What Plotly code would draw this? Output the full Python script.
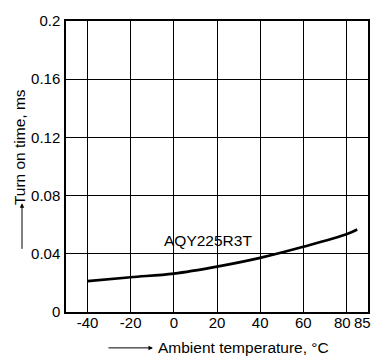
import plotly.graph_objects as go

# Data
temperature_c = [-40, -20, 0, 20, 40, 60, 80, 85]
turn_on_ms = [0.0212, 0.0239, 0.0264, 0.0312, 0.0372, 0.0448, 0.0534, 0.0567]
series_label = "AQY225R3T"

x_grid_ticks = [-40, -20, 0, 20, 40, 60, 80]
x_tick_labels = ["-40", "-20", "0", "20", "40", "60"]
x_tick_vals = [-40, -20, 0, 20, 40, 60]
x_edge_labels = [(80, "80", -4), (85, "85", 5)]
y_tick_vals = [0, 0.04, 0.08, 0.12, 0.16, 0.2]
y_tick_text = ["0", "0.04", "0.08", "0.12", "0.16", "0.2"]

FONT = "Liberation Sans, Arial, Helvetica, sans-serif"
TICK = 15

fig = go.Figure()
fig.add_trace(go.Scatter(
    x=temperature_c, y=turn_on_ms, mode="lines",
    line=dict(color="black", width=2.6, shape="spline", smoothing=1.0),
    showlegend=False, hoverinfo="skip",
))
# invisible trace to host the label axis
fig.add_trace(go.Scatter(x=[x_tick_vals[0]], y=[0], xaxis="x2", mode="markers",
                         marker=dict(opacity=0), showlegend=False, hoverinfo="skip"))

fig.update_layout(
    width=385, height=360,
    margin=dict(l=66, r=17, t=12, b=48),
    paper_bgcolor="white", plot_bgcolor="white",
    font=dict(family=FONT, size=TICK, color="black"),
    xaxis=dict(
        range=[-50, 90], tickvals=x_grid_ticks, showticklabels=False,
        showgrid=True, gridcolor="black", gridwidth=1,
        zeroline=False, showline=True, linecolor="black", linewidth=1.5,
        mirror=True, ticks="",
    ),
    xaxis2=dict(
        range=[-50, 90], overlaying="x", side="bottom", anchor="y",
        tickvals=x_tick_vals, ticktext=x_tick_labels, showgrid=False,
        zeroline=False, showline=False, ticks="",
        tickfont=dict(family=FONT, size=TICK, color="black"),
    ),
    yaxis=dict(
        range=[0, 0.2], tickvals=y_tick_vals, ticktext=y_tick_text,
        showgrid=True, gridcolor="black", gridwidth=1,
        zeroline=False, showline=True, linecolor="black", linewidth=1.5,
        mirror=True, ticks="outside", ticklen=1, tickcolor="white",
        tickfont=dict(family=FONT, size=TICK, color="black"),
    ),
)

annotations = []
for val, txt, shift in x_edge_labels:
    annotations.append(dict(x=val, y=0, xref="x", yref="y", text=txt, showarrow=False,
                            xanchor="center", yanchor="top", xshift=shift, yshift=0,
                            font=dict(family=FONT, size=TICK, color="black")))
# Series label
annotations.append(dict(x=16, y=0.049, xref="x", yref="y", text=series_label,
                        showarrow=False, font=dict(family=FONT, size=15.5, color="black")))
# X axis title with arrow
annotations.append(dict(x=(153 - 66) / 302, y=(312 - 349) / 300, xref="paper", yref="paper",
                        ax=-46, ay=0, text="", showarrow=True, arrowhead=2, arrowsize=0.9,
                        arrowwidth=1, arrowcolor="black"))
annotations.append(dict(x=(156 - 66) / 302, y=(312 - 349) / 300, xref="paper", yref="paper",
                        text="Ambient temperature, °C", showarrow=False,
                        xanchor="left", yanchor="middle",
                        font=dict(family=FONT, size=15.5, color="black")))
# Y axis title with arrow
annotations.append(dict(x=(22 - 66) / 302, y=(312 - 200) / 300, xref="paper", yref="paper",
                        ax=0, ay=47, text="", showarrow=True, arrowhead=2, arrowsize=0.9,
                        arrowwidth=1, arrowcolor="black"))
annotations.append(dict(x=(19 - 66) / 302, y=(312 - 142) / 300, xref="paper", yref="paper",
                        text="Turn on time, ms", showarrow=False, textangle=-90,
                        xanchor="center", yanchor="middle",
                        font=dict(family=FONT, size=15.5, color="black")))
fig.update_layout(annotations=annotations)

fig.write_html("out.html")
